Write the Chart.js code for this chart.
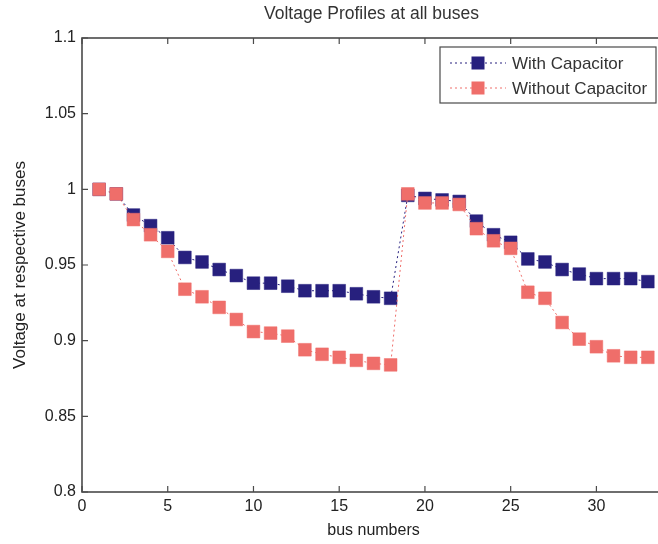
<!DOCTYPE html>
<html>
<head>
<meta charset="utf-8">
<script src="https://cdn.jsdelivr.net/npm/chart.js@4/dist/chart.umd.min.js"></script>
<style>
html,body{margin:0;padding:0;background:#fff;overflow:hidden;width:658px;height:544px;}
canvas{display:block;}
</style>
</head>
<body>
<canvas id="c" width="680" height="544"></canvas>
<script>
const buses = [1,2,3,4,5,6,7,8,9,10,11,12,13,14,15,16,17,18,19,20,21,22,23,24,25,26,27,28,29,30,31,32,33];
const withCapacitor = [1.000,0.997,0.983,0.976,0.968,0.955,0.952,0.947,0.943,0.938,0.938,0.936,0.933,0.933,0.933,0.931,0.929,0.928,0.996,0.994,0.993,0.992,0.979,0.970,0.965,0.954,0.952,0.947,0.944,0.941,0.941,0.941,0.939];
const withoutCapacitor = [1.000,0.997,0.980,0.970,0.959,0.934,0.929,0.922,0.914,0.906,0.905,0.903,0.894,0.891,0.889,0.887,0.885,0.884,0.997,0.991,0.991,0.990,0.974,0.966,0.961,0.932,0.928,0.912,0.901,0.896,0.890,0.889,0.889];
const seriesNames = ['With Capacitor','Without Capacitor'];
const chartTitle = 'Voltage Profiles at all buses';
const xTicks = [0,5,10,15,20,25,30];
const yTicks = [0.8,0.85,0.9,0.95,1,1.05,1.1];

const BLUE = '#27207e';
const RED = '#ef6e6a';
const FONT = '"Liberation Sans", Arial, sans-serif';

function pts(vals){ return buses.map((b,i)=>({x:b,y:vals[i]})); }

const frame = {
  id:'frame',
  afterDatasetsDraw(chart){
    const {ctx, chartArea:a, scales:{x,y}} = chart;
    ctx.save();
    // title centred over the axes
    ctx.fillStyle = '#333';
    ctx.font = '17.5px ' + FONT;
    ctx.textAlign = 'center';
    ctx.textBaseline = 'middle';
    ctx.fillText(chartTitle, (a.left+a.right)/2 - 2, 14);

    ctx.strokeStyle = '#4a4a4a';
    ctx.lineWidth = 1.6;
    ctx.strokeRect(a.left, a.top, a.right-a.left, a.bottom-a.top);
    ctx.lineWidth = 1.2;
    const L = 6;
    xTicks.forEach(v=>{
      const px = x.getPixelForValue(v);
      ctx.beginPath();
      ctx.moveTo(px,a.bottom); ctx.lineTo(px,a.bottom-L);
      ctx.moveTo(px,a.top); ctx.lineTo(px,a.top+L);
      ctx.stroke();
    });
    yTicks.forEach(v=>{
      const py = y.getPixelForValue(v);
      ctx.beginPath();
      ctx.moveTo(a.left,py); ctx.lineTo(a.left+L,py);
      ctx.moveTo(a.right,py); ctx.lineTo(a.right-L,py);
      ctx.stroke();
    });
    // legend
    const bx = a.right-225, by = a.top+9, bw = 216, bh = 56;
    ctx.fillStyle = '#fff';
    ctx.fillRect(bx,by,bw,bh);
    ctx.strokeStyle = '#4a4a4a';
    ctx.lineWidth = 1.2;
    ctx.strokeRect(bx,by,bw,bh);
    const cols = [BLUE, RED];
    seriesNames.forEach((name,i)=>{
      const cy = by + 16 + i*25;
      ctx.strokeStyle = cols[i];
      ctx.lineWidth = 1;
      ctx.setLineDash([2,3]);
      ctx.beginPath();
      ctx.moveTo(bx+10,cy); ctx.lineTo(bx+66,cy);
      ctx.stroke();
      ctx.setLineDash([]);
      ctx.fillStyle = cols[i];
      ctx.fillRect(bx+38-6.5, cy-6.5, 13, 13);
      ctx.fillStyle = '#333';
      ctx.font = '17px ' + FONT;
      ctx.textBaseline = 'middle';
      ctx.textAlign = 'left';
      ctx.fillText(name, bx+72, cy+1);
    });
    ctx.restore();
  }
};

new Chart(document.getElementById('c'), {
  type:'line',
  data:{
    datasets:[
      {label:seriesNames[0], data:pts(withCapacitor), borderColor:BLUE, backgroundColor:BLUE,
       borderWidth:1, borderDash:[2,3], pointStyle:'rect', pointRadius:9, pointBorderWidth:0.5,
       pointBorderColor:BLUE, pointBackgroundColor:BLUE, order:2},
      {label:seriesNames[1], data:pts(withoutCapacitor), borderColor:RED, backgroundColor:RED,
       borderWidth:1, borderDash:[2,3], pointStyle:'rect', pointRadius:9, pointBorderWidth:0.5,
       pointBorderColor:RED, pointBackgroundColor:RED, order:1}
    ]
  },
  options:{
    responsive:false,
    animation:false,
    devicePixelRatio:1,
    layout:{padding:{left:0,right:15,top:38,bottom:0}},
    plugins:{
      legend:{display:false},
      tooltip:{enabled:false},
      title:{display:false}
    },
    scales:{
      x:{type:'linear', min:0, max:34,
        grid:{display:false, drawTicks:false},
        border:{display:false},
        afterFit(s){ s.height = 52; },
        afterBuildTicks(s){ s.ticks = xTicks.map(v=>({value:v})); },
        ticks:{stepSize:5, includeBounds:false, padding:5, color:'#222', font:{family:FONT,size:16},
          maxRotation:0, callback:v=>String(v)},
        title:{display:true, text:'bus numbers', color:'#222', font:{family:FONT,size:16}, padding:{top:0,bottom:4}}
      },
      y:{type:'linear', min:0.8, max:1.1,
        grid:{display:false, drawTicks:false},
        border:{display:false},
        afterFit(s){ s.width = 82; },
        afterBuildTicks(s){ s.ticks = yTicks.map(v=>({value:v})); },
        ticks:{padding:6, color:'#222', font:{family:FONT,size:16}, callback:v=>String(+v.toFixed(2))},
        title:{display:true, text:'Voltage at respective buses', color:'#222', font:{family:FONT,size:17}, padding:{top:10,bottom:0}}
      }
    }
  },
  plugins:[frame]
});
</script>
</body>
</html>
